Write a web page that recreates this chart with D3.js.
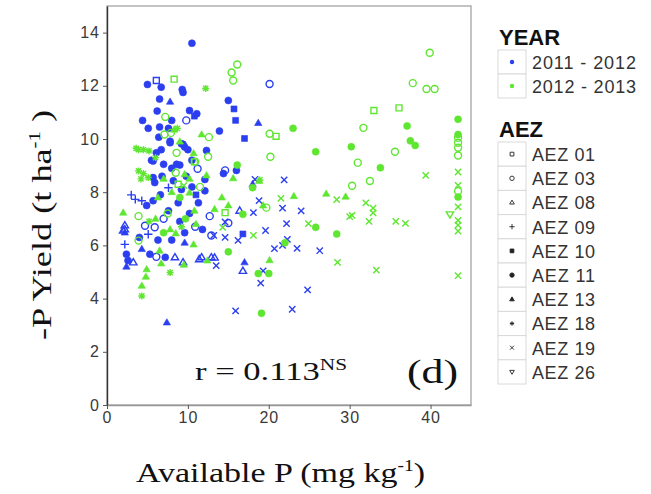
<!DOCTYPE html>
<html><head><meta charset="utf-8">
<script src="https://cdn.jsdelivr.net/npm/d3@7"></script>
<style>body{margin:0;background:#fff}svg{display:block}</style>
</head><body><svg id="c" width="651" height="494"></svg>
<script>
// ---- DATA ----
const yearLabels = ["2011 - 2012", "2012 - 2013"];
const aezCodes = ["01","03","08","09","10","11","13","18","19","26"];
const aezLabels = ["AEZ 01","AEZ 03","AEZ 08","AEZ 09","AEZ 10","AEZ 11","AEZ 13","AEZ 18","AEZ 19","AEZ 26"];
const xTicks = [0,10,20,30,40];
const yTicks = [0,2,4,6,8,10,12,14];

// 2011 - 2012 (blue): available P, yield, AEZ
const blueP = [10.5,6.1,5.0,6.7,9.3,9.4,20.1,6.5,7.8,15.0,15.7,15.9,6.2,10.2,11.1,10.8,9.8,4.4,8.0,18.7,5.1,6.5,7.6,13.9,17.0,6.4,7.8,9.2,9.6,6.7,6.1,10.0,12.3,5.5,7.0,9.0,11.2,16.0,14.6,14.4,18.3,18.0,21.9,18.8,21.7,16.4,18.1,24.0,12.7,14.6,15.0,22.2,19.6,16.8,13.2,14.6,16.2,22.3,21.7,20.7,23.5,26.3,13.3,13.5,17.0,16.8,19.3,19.0,24.8,15.9,22.9,
  7.8,9.4,5.7,8.6,5.7,5.9,8.2,12.1,9.2,7.6,12.1,3.5,4.3,5.7,4.9,7.6,2.2,2.2,4.7,5.9,5.1,9.6,10.9,12.9,2.2,4.3,2.4,5.3,6.1,7.2,2.6,2.4,3.25,8.4,9.4,11.7,12.9,11.4,7.4,2.0,2.2,
  8.0,9.8,10.5,6.6,8.8,10.2,11.3,9.0,7.0,10.5,11.8,6.3,3.0,8.0,9.6,11.0,6.8,4.0];
const blueY = [13.6,12.2,12.05,11.95,11.86,11.75,12.07,11.5,11.4,11.45,11.13,10.7,11.05,11.07,10.95,10.86,10.7,10.7,10.7,10.6,10.4,10.45,10.4,10.3,10.02,10.07,9.86,9.82,9.7,9.6,9.48,9.6,9.57,9.2,9.05,9.02,8.88,8.82,8.82,8.7,8.48,8.3,8.46,7.68,7.4,7.3,7.23,7.3,7.1,6.88,6.84,6.82,6.56,6.43,6.38,6.3,6.19,6.23,6.0,5.88,5.89,5.8,5.54,5.24,5.36,5.04,5.04,4.58,4.33,3.54,3.6,
  9.92,9.8,9.17,9.05,8.55,8.36,8.43,8.48,8.1,8.17,8.05,7.73,7.68,7.68,7.5,7.3,6.6,6.48,6.74,6.68,6.42,6.48,6.7,6.37,6.04,5.86,5.67,5.67,5.57,5.55,5.43,5.2,5.36,5.55,5.36,5.55,5.55,5.48,3.1,6.56,6.75,
  8.9,8.6,8.2,7.9,7.6,7.2,7.6,6.9,7.0,9.2,6.6,6.2,7.9,6.2,6.1,7.9,8.6,6.3];
const blueAEZ = ["11","01","11","11","11","11","03","11","13","11","10","10","11","11","11","10","03","11","11","13","11","11","11","11","10","11","11","11","11","11","11","11","11","11","11","11","03","11","03","11","19","13","19","19","19","08","19","19","03","19","03","19","19","10","19","19","19","19","19","19","19","19","08","19","13","08","19","19","19","19","19",
  "11","11","11","11","11","11","11","11","11","09","11","09","09","11","11","11","08","13","03","03","09","11","03","03","09","13","11","11","03","11","11","13","08","08","08","08","08","08","13","08","08",
  "11","11","11","11","11","11","11","11","03","11","11","11","09","11","13","10","11","11"];

// 2012 - 2013 (green)
const greenP = [16.1,15.4,15.6,8.3,12.2,7.2,8.7,8.3,7.1,7.9,11.7,12.6,20.1,20.9,3.9,4.5,5.2,8.6,10.7,12.5,20.2,10.9,16.1,15.6,12.3,18.0,18.8,18.9,23.0,25.8,14.2,15.0,21.5,23.1,27.1,28.4,19.7,19.3,13.3,14.6,16.8,14.3,24.9,25.8,28.4,18.1,15.0,20.1,18.7,20.0,28.5,19.1,29.5,32.0,32.9,32.9,30.0,30.3,32.4,35.7,36.9,22.0,33.3,43.4,
  39.9,37.8,39.5,40.5,33.0,36.1,31.7,37.1,30.2,37.5,38.1,35.6,31.0,33.8,32.5,30.3,39.4,
  43.4,43.4,43.4,43.4,43.4,43.4,43.4,43.4,43.4,43.4,43.4,42.4,43.4,43.4,43.4,
  10.8,8.5,3.9,4.5,5.1,4.2,9.6,10.2,9.5,10.2,6.3,2.0,3.9,7.0,7.8,8.5,9.2,3.9,6.5,10.7,6.7,9.5,12.4,4.9,4.8,7.8,4.3,4.3,
  8.0,9.0,10.8,7.5,6.0,9.7,11.5,8.8,7.0,11.0,5.2,9.0,6.0,3.6];
const greenY = [12.8,12.5,12.2,12.25,11.9,10.83,10.4,10.35,10.17,10.23,10.17,10.07,10.2,10.1,9.6,9.6,9.55,9.48,9.46,9.33,9.33,9.15,9.02,8.52,8.63,8.17,8.42,8.46,10.4,9.52,7.8,7.5,7.77,7.85,7.94,7.72,7.42,7.5,7.36,7.23,7.17,6.68,6.82,6.68,6.43,6.38,5.76,5.44,4.94,4.94,5.36,3.45,7.83,7.6,7.4,7.22,7.08,7.13,6.9,6.9,6.83,6.1,5.07,4.86,
  13.24,12.1,11.88,11.88,11.07,11.17,10.42,10.49,9.71,9.93,9.76,9.52,9.11,8.92,8.42,8.24,8.63,
  10.74,10.17,10.05,9.86,9.67,9.38,8.76,8.26,8.04,7.82,7.45,7.17,6.94,6.76,6.54,
  9.14,8.73,8.8,8.7,8.55,8.5,8.67,8.5,8.25,7.98,7.8,7.23,7.1,6.48,6.6,6.45,6.7,6.18,5.8,6.03,5.32,5.27,5.43,5.1,4.82,4.98,4.48,4.1,
  8.0,7.8,7.3,7.2,7.0,7.0,8.2,8.3,8.5,6.8,6.9,9.9,9.3,9.65];
const greenAEZ = ["03","03","03","01","18","03","18","13","03","03","13","03","03","01","18","18","18","03","13","03","03","03","11","13","13","11","13","18","11","11","13","13","19","13","13","19","03","13","13","01","11","19","19","11","11","19","11","13","11","11","19","11","13","19","19","19","19","19","19","19","19","11","19","19",
  "03","03","03","03","01","01","03","11","11","11","11","03","03","11","03","03","19",
  "11","11","03","03","03","03","19","19","03","11","19","26","19","19","19",
  "01","03","18","18","18","18","13","13","19","13","13","13","03","11","13","13","18","03","13","13","13","13","13","13","13","18","13","18",
  "13","11","13","03","13","11","03","01","13","13","18","13","18","18"];

// ---- STYLE ----
const colBlue = "#2b3ff0", colGreen = "#5ee630";
const svg = d3.select("#c");
const x = d3.scaleLinear().domain([0,45]).range([107,471]);
const y = d3.scaleLinear().domain([0,15]).range([405,6]);

// glyph paths centred on origin (ggplot shapes)
function glyph(code, s){
  const p = d3.path();
  switch(code){
    case "01": case "10": p.rect(-s*0.85,-s*0.85,s*1.7,s*1.7); break;
    case "03": case "11": p.arc(0,0,s,0,2*Math.PI); p.closePath(); break;
    case "08": case "13": p.moveTo(0,-s*1.1); p.lineTo(s*1.05,s*0.7); p.lineTo(-s*1.05,s*0.7); p.closePath(); break;
    case "26": p.moveTo(0,s*1.1); p.lineTo(s*1.05,-s*0.7); p.lineTo(-s*1.05,-s*0.7); p.closePath(); break;
    case "09": p.moveTo(-s*1.2,0); p.lineTo(s*1.2,0); p.moveTo(0,-s*1.2); p.lineTo(0,s*1.2); break;
    case "19": p.moveTo(-s*0.9,-s*0.9); p.lineTo(s*0.9,s*0.9); p.moveTo(s*0.9,-s*0.9); p.lineTo(-s*0.9,s*0.9); break;
    case "18": p.moveTo(-s,0); p.lineTo(s,0); p.moveTo(0,-s); p.lineTo(0,s);
               p.moveTo(-s*0.75,-s*0.75); p.lineTo(s*0.75,s*0.75); p.moveTo(s*0.75,-s*0.75); p.lineTo(-s*0.75,s*0.75); break;
  }
  return p.toString();
}
const filled = new Set(["10","11","13"]);

// panel
svg.append("rect").attr("x",107).attr("y",6).attr("width",364).attr("height",399)
  .attr("fill","#fff").attr("stroke","#aaa").attr("stroke-width",1.4);

function drawSeries(P, Y, A, col){
  svg.append("g").selectAll("path").data(P.map((d,i)=>({p:d,y:Y[i],a:A[i]}))).join("path")
    .attr("transform", d=>`translate(${x(d.p)},${y(d.y)})`)
    .attr("d", d=>glyph(d.a, 3.5))
    .attr("fill", d=>filled.has(d.a)?col:"none")
    .attr("stroke", col).attr("stroke-width", d=>filled.has(d.a)?0.6:1.4);
}
drawSeries(blueP, blueY, blueAEZ, colBlue);
drawSeries(greenP, greenY, greenAEZ, colGreen);

// axes
const yAx = svg.append("g").attr("transform","translate(107,0)")
  .call(d3.axisLeft(y).tickValues(yTicks).tickSize(4).tickPadding(3).tickSizeOuter(0));
yAx.select(".domain").attr("stroke","#333").attr("stroke-width",1.4);
const xAx = svg.append("g").attr("transform","translate(0,405)")
  .call(d3.axisBottom(x).tickValues(xTicks).tickSize(4).tickPadding(3).tickSizeOuter(0));
xAx.select(".domain").attr("stroke","#999").attr("stroke-width",1.3);
[yAx,xAx].forEach(a=>{
  a.selectAll(".tick line").attr("stroke","#555");
  a.selectAll(".tick text").attr("fill","#3a3a3a").style("font-family","'Liberation Sans',Arial,sans-serif")
    .style("font-size","16px").style("letter-spacing","1px");
});

// titles
const serif = "'Liberation Serif','Times New Roman',serif";
const xt = svg.append("text").attr("x",136).attr("y",482).attr("textLength",289).attr("lengthAdjust","spacingAndGlyphs")
  .style("font-family",serif).style("font-size","28px").attr("fill","#111");
xt.append("tspan").text("Available P (mg kg");
xt.append("tspan").text("-1").style("font-size","16px").attr("dy",-11);
xt.append("tspan").text(")").attr("dy",11);

const yt = svg.append("text").attr("transform","translate(51,340) rotate(-90)")
  .attr("textLength",230).attr("lengthAdjust","spacingAndGlyphs")
  .style("font-family",serif).style("font-size","28px").attr("fill","#111");
yt.append("tspan").text("-P  Yield (t ha");
yt.append("tspan").text("-1").style("font-size","16px").attr("dy",-11);
yt.append("tspan").text(" )").attr("dy",11);

const rt = svg.append("text").attr("x",195).attr("y",380).attr("textLength",152).attr("lengthAdjust","spacingAndGlyphs")
  .style("font-family",serif).style("font-size","26px").attr("fill","#111");
rt.append("tspan").text("r = 0.113");
rt.append("tspan").text("NS").style("font-size","16px").attr("dy",-10);
svg.append("text").attr("x",407).attr("y",383).text("(d)").attr("textLength",51).attr("lengthAdjust","spacingAndGlyphs")
  .style("font-family",serif).style("font-size","33px").attr("fill","#111");

// legend
const sans = "'Liberation Sans',Arial,sans-serif";
svg.append("text").attr("x",499).attr("y",45).text("YEAR").style("font-family",sans)
  .style("font-size","22px").style("font-weight","bold").attr("fill","#111");
const yl = svg.append("g").selectAll("g").data(yearLabels).join("g")
  .attr("transform",(d,i)=>`translate(498,${50+i*24})`);
yl.append("rect").attr("width",28).attr("height",24).attr("fill","#fff").attr("stroke","#d9d9d9");
yl.append("circle").attr("cx",14).attr("cy",12).attr("r",2.2).attr("fill",(d,i)=>[colBlue,colGreen][i]);
yl.append("text").attr("x",34).attr("y",19).text(d=>d).attr("textLength",104).style("font-family",sans).style("font-size","18px").attr("fill","#333");

svg.append("text").attr("x",499).attr("y",137).text("AEZ").style("font-family",sans)
  .style("font-size","22px").style("font-weight","bold").attr("fill","#111");
const al = svg.append("g").selectAll("g").data(aezLabels).join("g")
  .attr("transform",(d,i)=>`translate(498,${142+i*24.2})`);
al.append("rect").attr("width",28).attr("height",24.2).attr("fill","#fff").attr("stroke","#d9d9d9");
al.append("path").attr("transform","translate(14,12.1)").attr("d",(d,i)=>glyph(aezCodes[i],2.2))
  .attr("fill",(d,i)=>filled.has(aezCodes[i])?"#222":"none").attr("stroke","#222").attr("stroke-width",0.9);
al.append("text").attr("x",34).attr("y",19).text(d=>d).attr("textLength",63).style("font-family",sans).style("font-size","18px").attr("fill","#333");
</script></body></html>
